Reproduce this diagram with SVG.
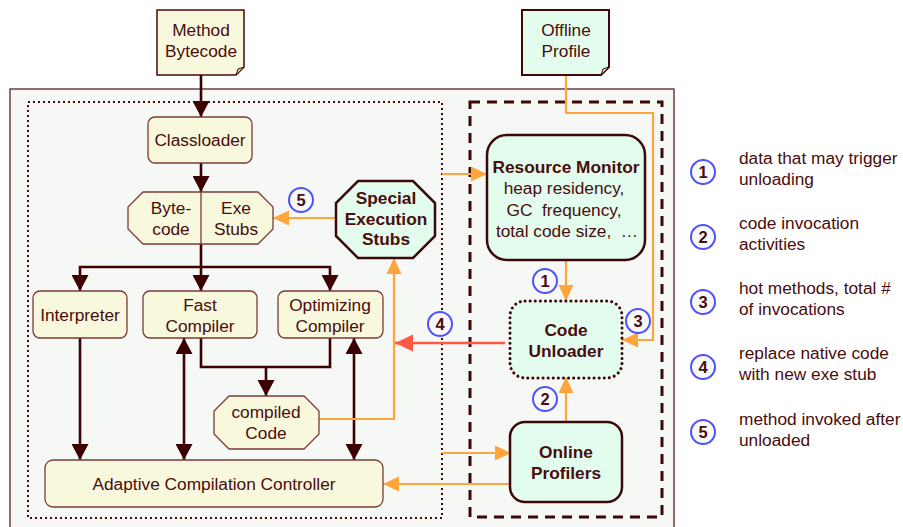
<svg xmlns="http://www.w3.org/2000/svg" width="903" height="527" viewBox="0 0 903 527">
<defs>
<style>
text{font-family:"Liberation Sans",Arial,sans-serif;font-size:17.3px;fill:#4a0c0c;text-anchor:middle}
.b{font-weight:bold}
.lg{text-anchor:start}
.y{fill:#f8f8dc;stroke:#7a3a3a;stroke-width:1.3}
.g{fill:#e2fcee;stroke:#3c0808;stroke-width:2.5}
.dk{fill:none;stroke:#3c0000;stroke-width:2.6}
.or{fill:none;stroke:#ffa53c;stroke-width:2.2}
.rd{fill:none;stroke:#ff5a45;stroke-width:2.6}
.c circle{fill:#f8fafa;stroke:#5050ff;stroke-width:2}
.c text{font-weight:bold;font-size:16.5px}
</style>
<marker id="ad" markerUnits="userSpaceOnUse" markerWidth="17" markerHeight="17" refX="16" refY="8.5" orient="auto-start-reverse"><path d="M0,0 L16,8.5 L0,17 z" fill="#3c0000"/></marker>
<marker id="ao" markerUnits="userSpaceOnUse" markerWidth="17" markerHeight="16" refX="16" refY="7.5" orient="auto"><path d="M0,0 L16,7.5 L0,15 z" fill="#ffa53c"/></marker>
<marker id="ar" markerUnits="userSpaceOnUse" markerWidth="19" markerHeight="18" refX="18" refY="8.5" orient="auto"><path d="M0,0 L18,8.5 L0,17 z" fill="#ff5a45"/></marker>
</defs>
<rect width="903" height="527" fill="#ffffff"/>
<g id="containers">
<rect x="10" y="89" width="664" height="450" fill="#f6f8f6" stroke="#4a1010" stroke-width="1.2"/>
<rect x="28" y="102" width="414" height="416" fill="none" stroke="#4a0a0a" stroke-width="2" stroke-dasharray="2 3"/>
<rect x="470" y="102" width="192" height="415" fill="none" stroke="#3c0808" stroke-width="3" stroke-dasharray="10 7"/>
</g>
<g id="connectors">
<path class="dk" d="M201,75 V117" marker-end="url(#ad)"/>
<path class="dk" d="M201,163 V192" marker-end="url(#ad)"/>
<path class="dk" d="M201,244 V291" marker-end="url(#ad)"/>
<path class="dk" d="M80,291 V267 H330 V291" marker-start="url(#ad)" marker-end="url(#ad)"/>
<path class="dk" d="M80,338 V460" marker-end="url(#ad)"/>
<path class="dk" d="M184,338 V460" marker-start="url(#ad)" marker-end="url(#ad)"/>
<path class="dk" d="M354,338 V460" marker-start="url(#ad)" marker-end="url(#ad)"/>
<path class="dk" d="M201,338 V367 H330 V338"/>
<path class="dk" d="M266,367 V396" marker-end="url(#ad)"/>
<path class="or" d="M336,218 H273" marker-end="url(#ao)"/>
<path class="or" d="M319,419 H394 V258" marker-end="url(#ao)"/>
<path class="or" d="M442,174 H487" marker-end="url(#ao)"/>
<path class="or" d="M566,75 V113 H653 V340 H622" marker-end="url(#ao)"/>
<path class="or" d="M566,260 V301" marker-end="url(#ao)"/>
<path class="or" d="M566,422 V377" marker-end="url(#ao)"/>
<path class="or" d="M442,453 H511" marker-end="url(#ao)"/>
<path class="or" d="M511,484 H383" marker-end="url(#ao)"/>
<path class="rd" d="M505,343 H395" marker-end="url(#ar)"/>
</g>
<g id="method-bytecode">
<path d="M157,10 H244 V67 L236,75 H157 Z" fill="#f8f8dc" stroke="#4a0a0a" stroke-width="1.5"/>
<path d="M244,67 L238,69 L236,75 Z" fill="#d8d0a8" stroke="#4a0a0a" stroke-width="1"/>
<text x="201" y="36">Method</text><text x="201" y="57">Bytecode</text>
</g>
<g id="offline-profile">
<path d="M522,10 H609 V67 L601,75 H522 Z" fill="#e2fcee" stroke="#3c0808" stroke-width="2"/>
<path d="M609,67 L603,69 L601,75 Z" fill="#c8e0d0" stroke="#3c0808" stroke-width="1"/>
<text x="566" y="36">Offline</text><text x="566" y="57">Profile</text>
</g>
<g id="classloader">
<rect class="y" x="148" y="117" width="104" height="46" rx="7"/>
<text x="200" y="146">Classloader</text>
</g>
<g id="bytecode-exestubs">
<polygon class="y" points="143,192 258,192 273,207 273,229 258,244 143,244 128,229 128,207"/>
<line x1="201" y1="192" x2="201" y2="244" stroke="#7a3a3a" stroke-width="1.3"/>
<text x="171" y="214">Byte-</text><text x="171" y="235">code</text>
<text x="236" y="214">Exe</text><text x="236" y="235">Stubs</text>
</g>
<g id="special-stubs">
<polygon class="g" points="358,181 413,181 435,203 435,236 413,258 358,258 336,236 336,203"/>
<text class="b" x="386" y="204">Special</text><text class="b" x="386" y="225">Execution</text><text class="b" x="386" y="245">Stubs</text>
</g>
<g id="interpreter">
<rect class="y" x="33" y="291" width="94" height="47" rx="7"/>
<text x="80" y="321">Interpreter</text>
</g>
<g id="fast-compiler">
<rect class="y" x="143" y="291" width="114" height="47" rx="7"/>
<text x="200" y="311">Fast</text><text x="200" y="332">Compiler</text>
</g>
<g id="optimizing-compiler">
<rect class="y" x="278" y="291" width="105" height="47" rx="7"/>
<text x="330" y="311">Optimizing</text><text x="330" y="332">Compiler</text>
</g>
<g id="compiled-code">
<polygon class="y" points="229,396 304,396 319,411 319,434 304,449 229,449 214,434 214,411"/>
<text x="266" y="418">compiled</text><text x="266" y="439">Code</text>
</g>
<g id="adaptive-controller">
<rect class="y" x="45" y="460" width="338" height="47" rx="8"/>
<text x="214" y="490">Adaptive Compilation Controller</text>
</g>
<g id="resource-monitor">
<rect class="g" x="487" y="135" width="158" height="125" rx="20"/>
<text class="b" x="566" y="173">Resource Monitor</text>
<text x="564" y="194">heap residency,</text>
<text x="564" y="216" xml:space="preserve">GC  frequency,</text>
<text x="567" y="237" xml:space="preserve">total code size,  …</text>
</g>
<g id="code-unloader">
<rect x="510" y="301" width="112" height="77" rx="15" fill="#e2fcee" stroke="#3c0808" stroke-width="3" stroke-dasharray="0.1 5" stroke-linecap="round"/>
<text class="b" x="566" y="336">Code</text><text class="b" x="566" y="357">Unloader</text>
</g>
<g id="online-profilers">
<rect class="g" x="510" y="422" width="112" height="80" rx="15"/>
<text class="b" x="566" y="458">Online</text><text class="b" x="566" y="479">Profilers</text>
</g>
<g id="labels" class="c">
<circle cx="301" cy="200" r="12"/><text x="301" y="206">5</text>
<circle cx="440" cy="324" r="12"/><text x="440" y="330">4</text>
<circle cx="545" cy="281" r="12"/><text x="545" y="287">1</text>
<circle cx="545" cy="399" r="12"/><text x="545" y="405">2</text>
<circle cx="638" cy="321" r="12"/><text x="638" y="327">3</text>
</g>
<g id="legend">
<g class="c">
<circle cx="703" cy="172" r="12"/><text x="703" y="178">1</text>
<circle cx="703" cy="237" r="12"/><text x="703" y="243">2</text>
<circle cx="703" cy="302" r="12"/><text x="703" y="308">3</text>
<circle cx="703" cy="367" r="12"/><text x="703" y="373">4</text>
<circle cx="703" cy="432" r="12"/><text x="703" y="438">5</text>
</g>
<text class="lg" x="739" y="164">data that may trigger</text><text class="lg" x="739" y="185">unloading</text>
<text class="lg" x="739" y="229">code invocation</text><text class="lg" x="739" y="250">activities</text>
<text class="lg" x="739" y="294">hot methods, total #</text><text class="lg" x="739" y="315">of invocations</text>
<text class="lg" x="739" y="359">replace native code</text><text class="lg" x="739" y="380">with new exe stub</text>
<text class="lg" x="739" y="425">method invoked after</text><text class="lg" x="739" y="446">unloaded</text>
</g>
</svg>
